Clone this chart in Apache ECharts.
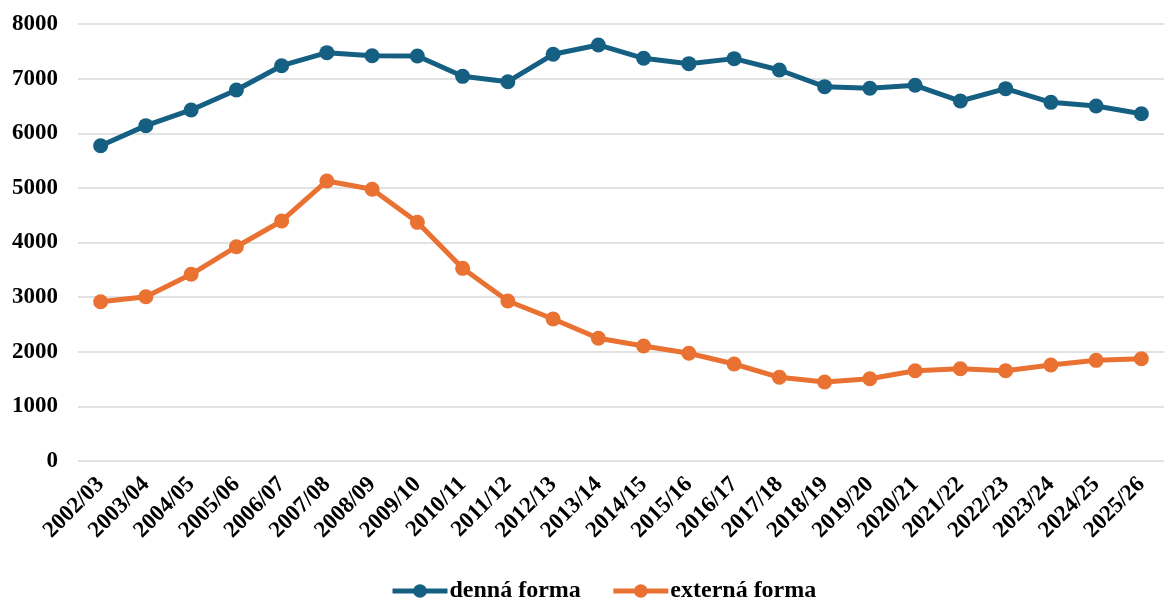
<!DOCTYPE html>
<html>
<head>
<meta charset="utf-8">
<script src="https://cdn.jsdelivr.net/npm/echarts@6/dist/echarts.min.js"></script>
<style>
    html, body { margin: 0; padding: 0; background: #fff; }
    #chart { width: 1164px; height: 599px; }
</style>
</head>
<body>
<div id="chart"></div>
<script>
var years = ['2002/03', '2003/04', '2004/05', '2005/06', '2006/07', '2007/08', '2008/09', '2009/10',
    '2010/11', '2011/12', '2012/13', '2013/14', '2014/15', '2015/16', '2016/17', '2017/18',
    '2018/19', '2019/20', '2020/21', '2021/22', '2022/23', '2023/24', '2024/25', '2025/26'];
var denna = [5772, 6139, 6426, 6792, 7237, 7475, 7420, 7414, 7042, 6944, 7445, 7616,
    7372, 7274, 7366, 7158, 6853, 6823, 6878, 6590, 6816, 6566, 6499, 6358];
var externa = [2916, 3008, 3418, 3923, 4394, 5126, 4974, 4369, 3527, 2929, 2600, 2246,
    2105, 1972, 1776, 1532, 1446, 1507, 1653, 1690, 1653, 1757, 1843, 1873];
var yTicks = [0, 1000, 2000, 3000, 4000, 5000, 6000, 7000, 8000];

var font = '"Liberation Serif", "Times New Roman", serif';
var chart = echarts.init(document.getElementById('chart'));

function lineSeries(name, data, color) {
    return {
        name: name,
        type: 'line',
        data: data,
        symbol: 'circle',
        symbolSize: 15,
        lineStyle: { color: color, width: 5 },
        itemStyle: { color: color },
        z: name == 'denná forma' ? 3 : 2
    };
}

option = {
    animation: false,
    grid: { left: 78, top: 24, width: 1099, bottom: 138 },
    legend: {
        left: 385,
        top: 574,
        itemWidth: 55,
        itemHeight: 17,
        itemGap: 30,
        lineStyle: { width: 5 },
        textStyle: { fontFamily: font, fontWeight: 'bold', fontSize: 24, color: '#000', padding: [0, 0, 0, -3] },
        data: ['denná forma', 'externá forma']
    },
    xAxis: {
        type: 'category',
        data: years,
        boundaryGap: true,
        axisLine: { show: false },
        axisTick: { show: false },
        axisLabel: {
            interval: 0,
            rotate: 45,
            margin: 20,
            fontFamily: font,
            fontWeight: 'bold',
            fontSize: 23,
            color: '#000'
        }
    },
    yAxis: {
        type: 'value',
        min: yTicks[0],
        max: yTicks[yTicks.length - 1],
        interval: 1000,
        axisLine: { show: false },
        axisTick: { show: false },
        splitLine: { lineStyle: { color: '#d9d9d9', width: 1.5 } },
        axisLabel: {
            margin: 20,
            fontFamily: font,
            fontWeight: 'bold',
            fontSize: 23,
            color: '#000',
            formatter: function (v) { return String(v); }
        }
    },
    series: [
        lineSeries('denná forma', denna, '#156082'),
        lineSeries('externá forma', externa, '#e97132')
    ]
};
chart.setOption(option);
</script>
</body>
</html>
